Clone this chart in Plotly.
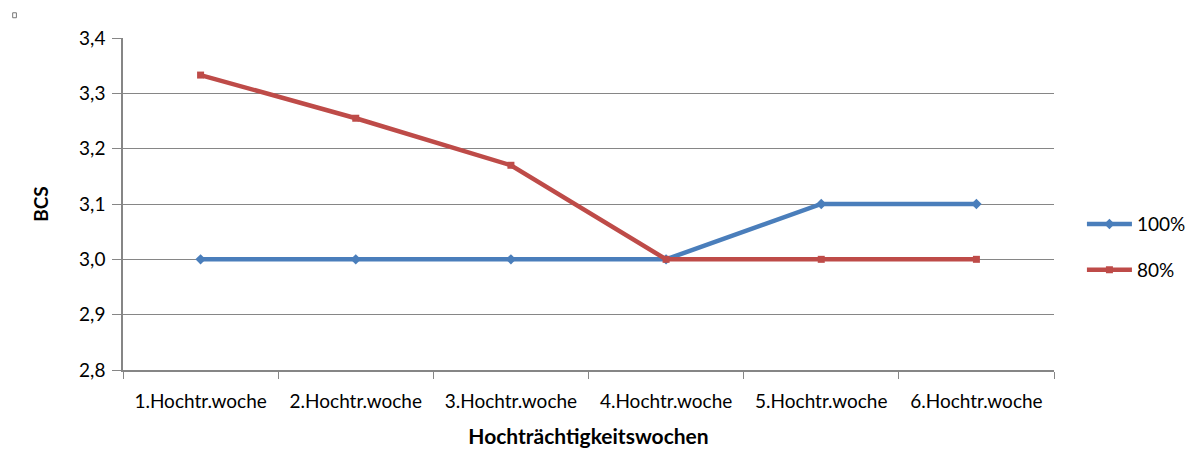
import plotly.graph_objects as go

categories = ["1.Hochtr.woche", "2.Hochtr.woche", "3.Hochtr.woche",
              "4.Hochtr.woche", "5.Hochtr.woche", "6.Hochtr.woche"]
series_100 = [3.0, 3.0, 3.0, 3.0, 3.1, 3.1]
series_80 = [3.333, 3.255, 3.17, 3.0, 3.0, 3.0]
y_ticks = [2.8, 2.9, 3.0, 3.1, 3.2, 3.3, 3.4]
y_tick_labels = ["2,8", "2,9", "3,0", "3,1", "3,2", "3,3", "3,4"]

FONT = "Lato, Open Sans, sans-serif"

fig = go.Figure()
fig.add_trace(go.Scatter(x=categories, y=series_100, name="100%", mode="lines+markers",
                         legendgroup="a",
                         line=dict(color="#4A7EBB", width=4.5),
                         marker=dict(symbol="diamond", size=8, color="#4A7EBB")))
fig.add_trace(go.Scatter(x=categories, y=series_80, name="80%", mode="lines+markers",
                         legendgroup="b",
                         line=dict(color="#BE4B48", width=4.5),
                         marker=dict(symbol="square", size=7, color="#BE4B48")))

fig.update_layout(
    width=1195, height=450,
    margin=dict(l=115, r=142, t=30, b=88),
    paper_bgcolor="white", plot_bgcolor="white",
    font=dict(family=FONT, size=19, color="black"),
    showlegend=True,
    legend=dict(x=1.03, y=0.37, xanchor="left", yanchor="middle",
                font=dict(size=19), traceorder="grouped", tracegroupgap=18,
                itemwidth=45, bgcolor="rgba(0,0,0,0)"),
    xaxis=dict(
        type="category", range=[-0.5, 5.5], tickson="boundaries", ticks="outside", ticklen=7,
        tickcolor="#868686", showline=True, linecolor="#868686", linewidth=1.5,
        showgrid=False, tickfont=dict(size=19), ticklabelstandoff=13,
        title=dict(text="<b>Hochträchtigkeitswochen</b>", font=dict(size=21), standoff=19),
    ),
    yaxis=dict(
        range=[2.8, 3.4], tickvals=y_ticks, ticktext=y_tick_labels,
        ticks="outside", ticklen=9, tickcolor="#868686",
        showline=True, linecolor="#868686", linewidth=1.5,
        showgrid=True, gridcolor="#868686", gridwidth=1.2, zeroline=False,
        tickfont=dict(size=19), ticklabelstandoff=3,
        title=dict(text="<b>BCS</b>", font=dict(size=19), standoff=25),
    ),
)

fig.add_shape(type="rect", xref="paper", yref="paper",
              x0=-0.1185, x1=-0.1145, y0=1.061, y1=1.076,
              line=dict(color="#777777", width=1), fillcolor="white")

fig.write_html("out.html")
